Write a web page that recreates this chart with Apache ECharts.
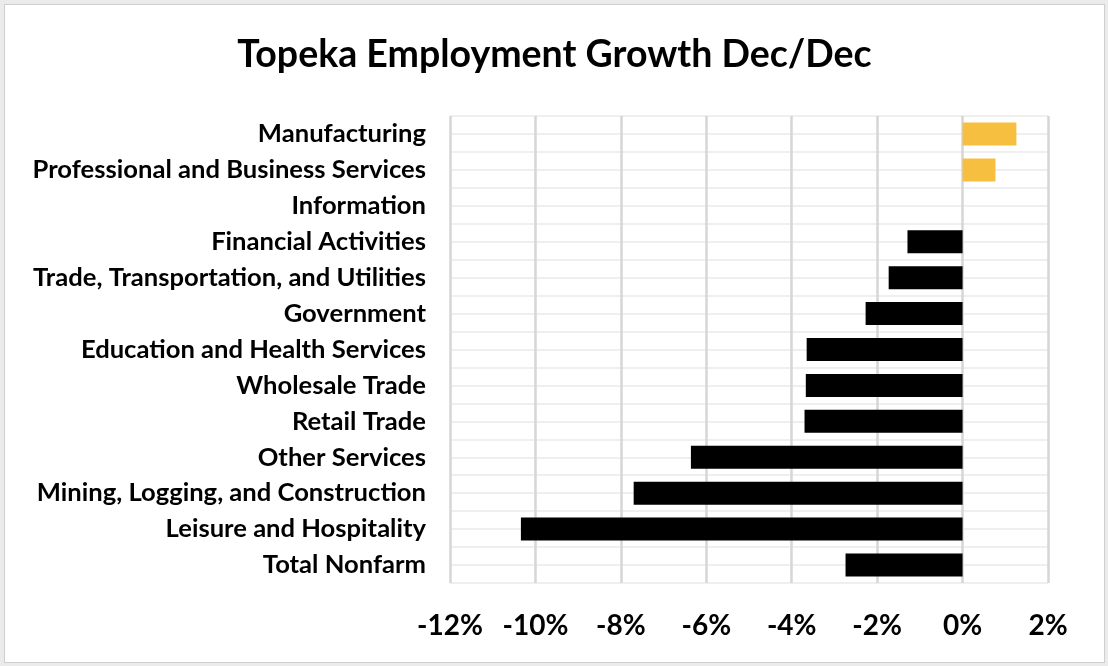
<!DOCTYPE html>
<html>
<head>
<meta charset="utf-8">
<script src="https://cdn.jsdelivr.net/npm/echarts@6/dist/echarts.min.js"></script>
<style>
  html, body { margin: 0; padding: 0; background: #ebebeb; }
  #main { position: absolute; left: 4px; top: 4px; width: 1099px; height: 657px;
          border: 1px solid #cfcfcf; background: #fff; }
</style>
</head>
<body>
<div id="main"></div>
<script>
// sectors, top to bottom
var sectors = ['Manufacturing', 'Professional and Business Services', 'Information',
  'Financial Activities', 'Trade, Transportation, and Utilities', 'Government',
  'Education and Health Services', 'Wholesale Trade', 'Retail Trade', 'Other Services',
  'Mining, Logging, and Construction', 'Leisure and Hospitality', 'Total Nonfarm'];
// growth Dec/Dec in percent
var growth = [1.26, 0.77, 0, -1.29, -1.73, -2.27, -3.65, -3.67, -3.70, -6.36, -7.70, -10.34, -2.74];

var fontFam = 'Lato, "Open Sans", sans-serif';

var myChart = echarts.init(document.getElementById('main'));
myChart.setOption({
  animation: false,
  title: {
    text: 'Topeka Employment Growth Dec/Dec',
    left: 'center',
    top: 26,
    textStyle: { fontFamily: fontFam, fontWeight: 'bold', fontSize: 37.5, color: '#000' }
  },
  grid: { left: 445, right: 56, top: 111, bottom: 79 },
  xAxis: {
    type: 'value',
    min: -12, max: 2, interval: 2,
    axisLine: { show: false },
    axisTick: { show: false },
    axisLabel: {
      margin: 29,
      formatter: '{value}%',
      fontFamily: fontFam, fontWeight: 'bold', fontSize: 28, color: '#000'
    },
    splitLine: { lineStyle: { color: '#d6d6d6', width: 2.5 } }
  },
  yAxis: [{
    type: 'category',
    data: sectors,
    inverse: true,
    axisLine: { show: false },
    axisTick: { show: false },
    splitLine: { show: false },
    axisLabel: {
      margin: 24,
      fontFamily: fontFam, fontWeight: 'bold', fontSize: 25.6, color: '#000'
    }
  }, {
    // half-row gridlines
    type: 'value',
    min: 0, max: 26, interval: 1,
    axisLine: { show: false },
    axisTick: { show: false },
    axisLabel: { show: false },
    splitLine: { lineStyle: { color: '#efefef', width: 2 } }
  }],
  series: [{
    type: 'bar',
    yAxisIndex: 0,
    data: growth.map(function (v) {
      return { value: v, itemStyle: { color: v > 0 ? '#F6BF3F' : '#000' } };
    }),
    barCategoryGap: '36%'
  }]
});
</script>
</body>
</html>
